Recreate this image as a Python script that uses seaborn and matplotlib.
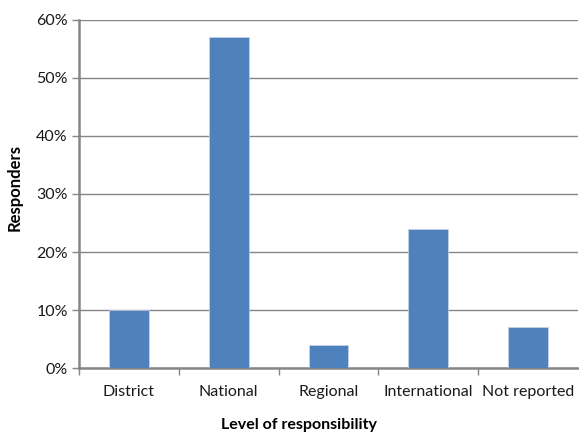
import matplotlib
matplotlib.use("Agg")
import matplotlib.pyplot as plt
import seaborn as sns
import pandas as pd
from matplotlib.ticker import FuncFormatter, FixedLocator

# data
levels = ["District", "National", "Regional", "International", "Not reported"]
responders = [10, 57, 4, 24, 7]

df = pd.DataFrame({"level": levels, "pct": responders})

sns.set_style("white")
plt.rcParams["font.family"] = ["Lato", "DejaVu Sans"]

fig = plt.figure(figsize=(5.79, 4.34), dpi=100)
ax = fig.add_axes([0.1364, 0.152, 0.862, 0.802])

sns.barplot(data=df, x="level", y="pct", color="#4F81BD", width=0.4,
            saturation=1, ax=ax, zorder=3, edgecolor="#C8D6E8", linewidth=0.5)

ax.set_ylim(0, 60)
ax.set_xlim(-0.5, 4.5)
ax.set_yticks(range(0, 61, 10))
ax.yaxis.set_major_formatter(FuncFormatter(lambda v, p: f"{int(v)}%"))
ax.yaxis.grid(True, color="#868686", linewidth=1, zorder=0)
ax.set_axisbelow(True)

for s in ["top", "right"]:
    ax.spines[s].set_visible(False)
for s in ["left", "bottom"]:
    ax.spines[s].set_color("#868686")
    ax.spines[s].set_linewidth(1.8)

ax.tick_params(axis="y", which="major", length=5, width=1, color="#868686",
               labelsize=11.5, labelcolor="#1a1a1a", direction="out", left=True, pad=3)
ax.tick_params(axis="x", which="major", length=0, labelsize=11.5,
               labelcolor="#1a1a1a", pad=12)
ax.xaxis.set_minor_locator(FixedLocator([-0.5, 0.5, 1.5, 2.5, 3.5]))
ax.tick_params(axis="x", which="minor", length=5, width=1, color="#868686",
               direction="out", bottom=True)

# Excel centres the axis title on the chart area, a bit left of the plot centre
ax.set_xlabel("Level of responsibility", fontsize=11.5, fontweight="bold",
              labelpad=14, color="black", x=0.44)
ax.set_ylabel("Responders", fontsize=12, fontweight="bold", labelpad=10,
              color="black", y=0.52)

fig.savefig("out.png", dpi=100)
